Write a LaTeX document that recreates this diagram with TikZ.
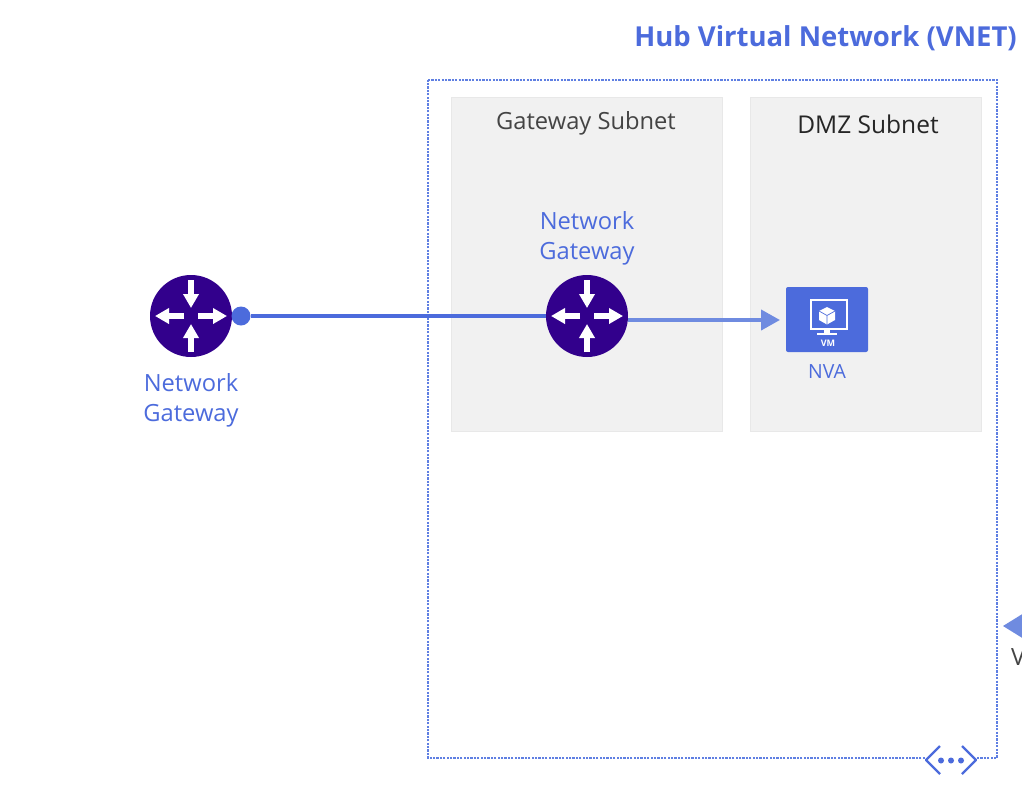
\documentclass[tikz,border=0pt]{standalone}
\usepackage{fontspec}
\setmainfont{Open Sans}
\usetikzlibrary{calc,positioning,arrows.meta}
\definecolor{hubblue}{HTML}{4C6BDC}
\definecolor{borderblue}{HTML}{5F7FE2}
\definecolor{linkblue}{HTML}{6F8BE0}
\definecolor{routerpurple}{HTML}{32008C}
\definecolor{subnetgray}{HTML}{F1F1F1}
\definecolor{subnetedge}{HTML}{E8E8E8}
\definecolor{labelgray}{HTML}{444444}
\tikzset{
  subnetbox/.style={draw=subnetedge,fill=subnetgray,line width=0.8pt,minimum height=334pt,anchor=north west,inner sep=0pt},
  subnetlabel/.style={font=\fontsize{23.7}{26}\selectfont,text=labelgray},
  bluelabel/.style={font=\fontsize{23.7}{30}\selectfont,text=hubblue,align=center,inner sep=0pt},
  routernode/.style={circle,fill=routerpurple,minimum size=82pt,inner sep=0pt},
  routerarrow/.style={white,line width=6.5pt,-{Triangle[length=14pt,width=15pt]}},
  vnetborder/.style={borderblue,line width=2.6pt,dash pattern=on 2.2pt off 1.2pt},
  pics/routericon/.style={code={
    \draw[routerarrow] (0,-36) -- (0,-8);
    \draw[routerarrow] (0,36) -- (0,8);
    \draw[routerarrow] (-7,0) -- (-36,0);
    \draw[routerarrow] (7,0) -- (36,0);
  }}
}
\begin{document}
\begin{tikzpicture}[x=1pt,y=-1pt]
  \useasboundingbox (0,0) rectangle (1022,796);
  \node[anchor=east,inner sep=0pt,text=hubblue,font=\fontsize{27.5}{30}\selectfont\bfseries] (hubtitle) at (1017,38) {Hub Virtual Network (VNET)};
  % outer vnet border
  \coordinate (vnetA) at (428,80);
  \coordinate (vnetB) at (997,80);
  \coordinate (vnetC) at (997,758);
  \coordinate (vnetD) at (428,758);
  \draw[vnetborder] (vnetA) -- (vnetB) -- (vnetC) -- (vnetD) -- cycle;
  \node[subnetbox,minimum width=271pt] (gwsubnet) at (451,97) {};
  \node[subnetbox,minimum width=231pt] (dmzsubnet) at (750,97) {};
  \node[subnetlabel] (gwlabel) at (586,123) {Gateway Subnet};
  \node[subnetlabel,text=black!85,font=\fontsize{24.5}{26}\selectfont] (dmzlabel) at (868,124) {DMZ Subnet};
  % routers
  \node[routernode] (gwleft) at (191,316) {};
  \pic at (gwleft) {routericon};
  \node[routernode] (gwhub) at (587,316) {};
  \node[bluelabel,below=16pt of gwleft] (gwleftlabel) {Network\\Gateway};
  \node[bluelabel,above=9pt of gwhub] (gwhublabel) {Network\\Gateway};
  \node[circle,fill=hubblue,minimum size=19pt,inner sep=0pt] (linkdot) at (241,316) {};
  \node[fill=hubblue,rounded corners=2pt,minimum width=82pt,minimum height=65pt,inner sep=0pt] (nvabox) at (827,319.5) {};
  \node[bluelabel,font=\fontsize{19.5}{22}\selectfont,below=12pt of nvabox] (nvalabel) {NVA};
  \draw[hubblue,line width=3.6pt] (linkdot) -- (gwhub);
  \pic at (gwhub) {routericon};
  \coordinate (linkstart) at (628,320);
  \coordinate (linkend) at (780,320);
  \draw[linkblue,line width=4pt,-{Triangle[length=19pt,width=20pt]}] (linkstart) -- (linkend);
  % vm icon
  \draw[white,line width=2pt] (811,300) rectangle (847,329);
  \fill[white] (827,307) -- (835,311) -- (835,320) -- (827,324.5) -- (819,320) -- (819,311) -- cycle;
  \draw[hubblue,line width=0.7pt] (819,311) -- (827,315.5) -- (835,311) (827,315.5) -- (827,324.5);
  \fill[white] (824,329) rectangle (830,333);
  \fill[white] (817,333) rectangle (837,335);
  \node[white,inner sep=0pt,font=\fontsize{9}{10}\selectfont\bfseries] (vmlabel) at (828,343) {VM};
  % vnet peering icon on the border
  \node[fill=white,minimum width=52pt,minimum height=12pt,inner sep=0pt] (peergap) at (951,759) {};
  \draw[hubblue,line width=2.4pt,line join=round] (940,746) -- (926,760) -- (940,774);
  \draw[hubblue,line width=2.4pt,line join=round] (962,746) -- (976,760) -- (962,774);
  \foreach \px in {941,951,961}
    \fill[hubblue] (\px,760.5) circle (3pt);
  % cut off on the right edge
  \fill[linkblue] (1003,626) -- (1024,613) -- (1024,639) -- cycle;
  \node[anchor=west,inner sep=0pt,text=labelgray,font=\fontsize{23.7}{26}\selectfont] (cutlabel) at (1011,657) {V};
\end{tikzpicture}
\end{document}
